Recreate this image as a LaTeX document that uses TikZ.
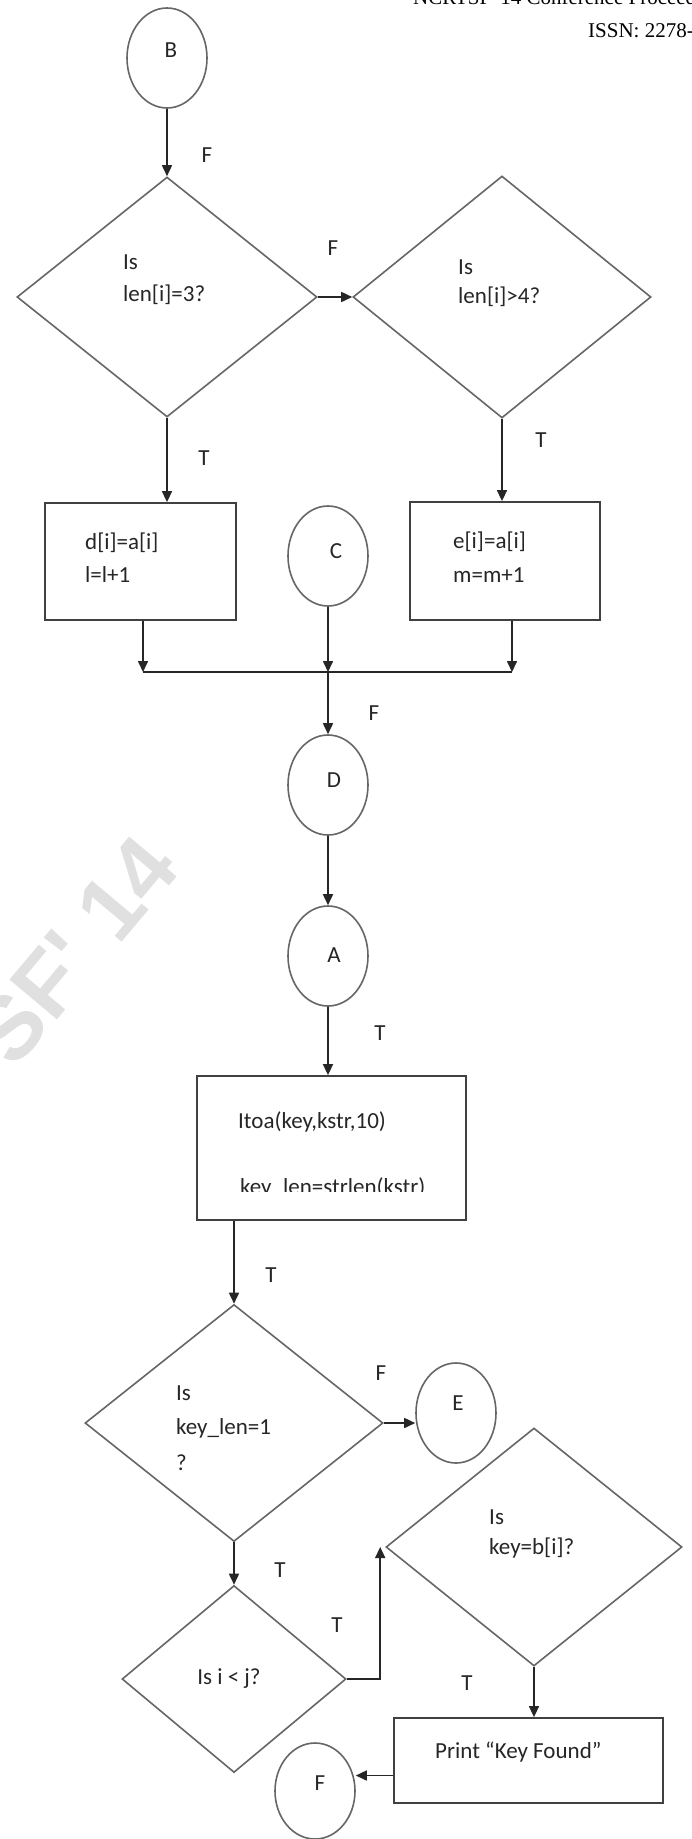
\documentclass[tikz,border=0pt]{standalone}
\usepackage{fontspec}
\setmainfont{Carlito}
\newfontfamily\hdrfont{Liberation Serif}
\newfontfamily\wmfont{Liberation Sans}
\usetikzlibrary{shapes.geometric,arrows.meta}
\begin{document}
\begin{tikzpicture}[x=1pt,y=-1pt,
  shp/.style={draw=black!60,line width=1.6pt},
  dia/.style={shp,diamond,inner sep=0pt},
  conn/.style={shp,ellipse,inner sep=0pt,minimum width=80pt,minimum height=100pt},
  box/.style={draw=black!75,line width=1.8pt,rectangle,inner sep=0pt},
  txt/.style={inner sep=0pt,text=black!85,font=\fontsize{23}{27}\selectfont},
  ltxt/.style={txt,anchor=west},
  arr/.style={draw=black!85,line width=1.6pt,-{Triangle[length=11pt,width=10pt]}},
  ln/.style={draw=black!85,line width=1.6pt},
]
\useasboundingbox (0,0) rectangle (691,1839);
\fill[white] (0,0) rectangle (691,1839);
\begin{scope}
\clip (0,0) rectangle (691,1839);
\node[rotate=50,text=black!12,font=\wmfont\bfseries\fontsize{90}{90}\selectfont,inner sep=0pt] (wm) at (75,950) {SF' 14};
\node[anchor=base west,inner sep=0pt,font=\hdrfont\fontsize{21}{21}\selectfont] (h1) at (413,5) {NCRTSF' 14 Conference Proceedings};
\node[anchor=base west,inner sep=0pt,font=\hdrfont\fontsize{21}{21}\selectfont] (h2) at (588,37) {ISSN: 2278-0181};
\end{scope}

% top part
\node[conn] (B) at (167,58) {};
\node[txt] (Bt) at (171,50) {B};
\node[dia,minimum width=300pt,minimum height=240pt] (d1) at (167,297) {};
\node[dia,minimum width=298pt,minimum height=242pt] (d2) at (502,297) {};
\draw[arr] (B.south) -- (d1.north);
\node[txt] (lF1) at (207,155) {F};
\draw[arr] (d1.east) -- (d2.west);
\node[txt] (lF2) at (333,248) {F};
\node[ltxt] (d1a) at (123,262) {Is};
\node[ltxt] (d1b) at (123,295) {len[i]=3?};
\node[ltxt] (d2a) at (458,267) {Is};
\node[ltxt] (d2b) at (458,297) {len[i]>4?};

\node[box,minimum width=191pt,minimum height=117pt] (r1) at (140.5,561.5) {};
\node[box,minimum width=190pt,minimum height=118pt] (r2) at (505,561) {};
\draw[arr] (d1.south) -- (d1.south |- r1.north);
\node[txt] (lT1) at (204,458) {T};
\draw[arr] (d2.south) -- (d2.south |- r2.north);
\node[txt] (lT2) at (541,440) {T};
\node[ltxt] (r1a) at (85,543) {d[i]=a[i]};
\node[ltxt] (r1b) at (85,575) {l=l+1};
\node[ltxt] (r2a) at (453,542) {e[i]=a[i]};
\node[ltxt] (r2b) at (453,575) {m=m+1};

\node[conn] (C) at (328,556) {};
\node[txt] (Ct) at (336,551) {C};

\coordinate (j1) at (143,672);
\coordinate (j2) at (328,672);
\coordinate (j3) at (512,672);
\draw[arr] (r1.south -| j1) -- (j1);
\draw[arr] (C.south) -- (j2);
\draw[arr] (r2.south -| j3) -- (j3);
\draw[ln] (j1) -- (j3);

\node[conn] (D) at (328,785) {};
\node[txt] (Dt) at (334,780) {D};
\draw[arr] (j2) -- (D.north);
\node[txt] (lF3) at (374,713) {F};

\node[conn] (A) at (328,956) {};
\node[txt] (At) at (334,955) {A};
\draw[arr] (D.south) -- (A.north);

\node[box,minimum width=269pt,minimum height=144pt] (r3) at (331.5,1148) {};
\draw[arr] (A.south) -- (A.south |- r3.north);
\node[txt] (lT3) at (380,1033) {T};
\node[ltxt] (r3a) at (238,1122) {Itoa(key,kstr,10)};
\begin{scope}
\clip (200,1150) rectangle (460,1191);
\node[txt,anchor=base west] (r3b) at (240,1194) {key\_len=strlen(kstr)};
\end{scope}

% lower part
\node[dia,minimum width=298pt,minimum height=237pt] (d3) at (234,1423) {};
\draw[arr] (r3.south -| d3.north) -- (d3.north);
\node[txt] (lT4) at (271,1275) {T};
\node[ltxt] (d3a) at (176,1393) {Is};
\node[ltxt] (d3b) at (176,1428) {key\_len=1};
\node[ltxt] (d3c) at (176,1463) {?};

\node[conn] (E) at (456,1413) {};
\node[txt] (Et) at (458,1403) {E};
\draw[arr] (d3.east) -- (d3.east -| E.west);
\node[txt] (lF4) at (381,1373) {F};

\node[dia,minimum width=224pt,minimum height=187pt] (d5) at (234,1679) {};
\draw[arr] (d3.south) -- (d5.north);
\node[txt] (lT5) at (280,1570) {T};
\node[txt] (d5t) at (229,1679) {Is i < j?};

\node[dia,minimum width=296pt,minimum height=238pt] (d4) at (534,1547) {};
\draw[arr] (d5.east) -| ([xshift=-5pt]d4.west);
\node[txt] (lT6) at (337,1625) {T};
\node[ltxt] (d4a) at (489,1517) {Is};
\node[ltxt] (d4b) at (489,1548) {key=b[i]?};

\node[box,minimum width=269pt,minimum height=85pt] (r4) at (528.5,1760.5) {};
\draw[arr] (d4.south) -- (d4.south |- r4.north);
\node[txt] (lT7) at (467,1683) {T};
\node[ltxt] (r4t) at (435,1752) {Print “Key Found”};

\node[conn,minimum height=96pt] (Fe) at (315,1791) {};
\node[txt] (Ft) at (320,1783) {F};
\draw[arr] ([yshift=-15pt]r4.west) -- ([yshift=-15pt]r4.west -| Fe.east);
\end{tikzpicture}
\end{document}
